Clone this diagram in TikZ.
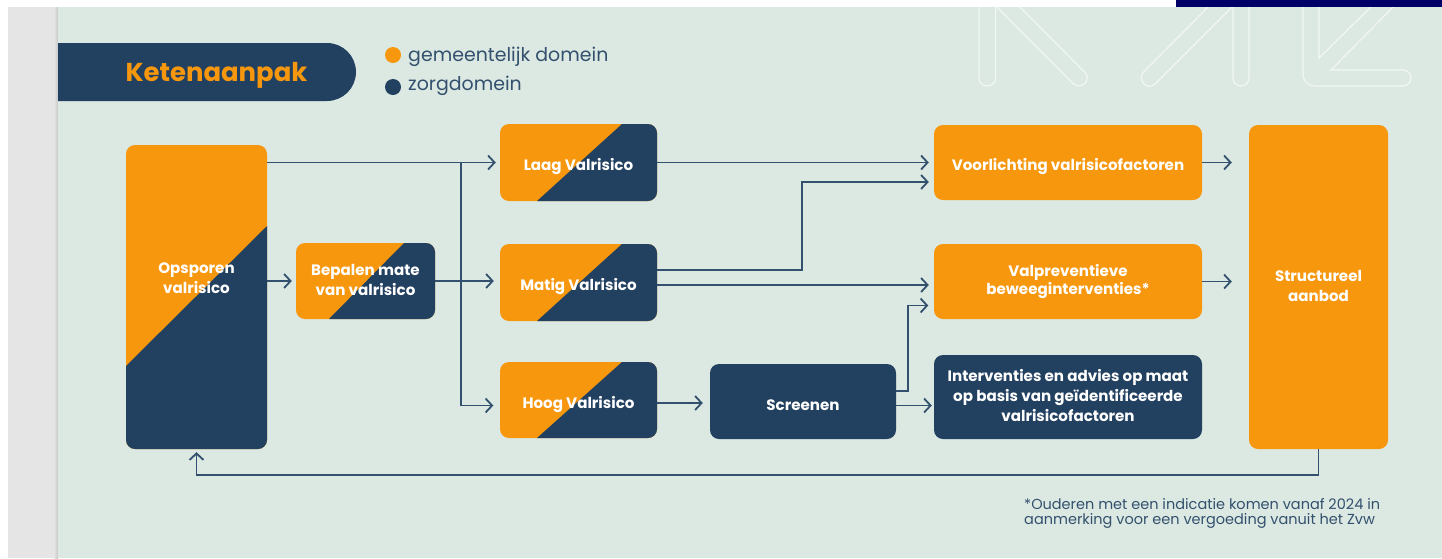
\documentclass[tikz,border=0pt]{standalone}
\usepackage{fontspec}
\setmainfont{Poppins}
\usetikzlibrary{arrows.meta,calc}
\definecolor{navy}{HTML}{224060}
\definecolor{oranje}{HTML}{F7970D}
\definecolor{mint}{HTML}{DCE9E2}
\definecolor{lijn}{HTML}{33506E}
\definecolor{ghost}{HTML}{F2F7F4}
\definecolor{strip}{HTML}{E5E5E5}
\definecolor{topbar}{HTML}{000066}
\tikzset{
  drop/.style={execute at begin node={\rule{0pt}{#1pt}}},
  boxbase/.style={rounded corners=9pt,inner sep=0pt,align=center,text=white,
    font=\fontsize{15.1}{20}\selectfont\bfseries,
    drop=20,
    execute at end node={\rule[-3pt]{0pt}{0pt}}},
  orangebox/.style={boxbase,fill=oranje},
  navybox/.style={boxbase,fill=navy},
  splitbox/.style 2 args={boxbase,fill=oranje,path picture={
    \fill[navy,sharp corners] ([xshift=#1pt]path picture bounding box.north west)
      -- (path picture bounding box.north east)
      -- (path picture bounding box.south east)
      -- ([xshift=#2pt]path picture bounding box.south west) -- cycle;}},
  conn/.style={draw=lijn,line width=1.8pt},
  arrowc/.style={conn,-{Straight Barb[length=6.5pt,width=14pt,line width=1.8pt]}},
  ghostline/.style={draw=ghost,line width=1.2pt},
  dot/.style={circle,inner sep=0pt,minimum size=16pt},
  legendtext/.style={anchor=west,inner sep=0pt,text=lijn,font=\fontsize{18.95}{22}\selectfont},
}
\begin{document}
\begin{tikzpicture}[x=1pt,y=-1pt]
\useasboundingbox (0,0) rectangle (1442,558);
\fill[white] (0,0) rectangle (1442,558);
\fill[strip] (8,7) rectangle (58,558);
\shade[left color=strip,right color=black!22] (54,7) rectangle (58,558);
\fill[mint] (58,7) rectangle (1442,558);
\fill[topbar] (1176,0) rectangle (1442,7);
% watermark
\begin{scope}
\clip (58,7) rectangle (1442,558);
\draw[ghostline] (979,0) -- (979,78) arc[start angle=180,end angle=360,x radius=8.3pt,y radius=8pt] -- (995.6,0);
\draw[ghostline] (990,0) -- (1073,83.5) .. controls (1078,88) and (1086,86) .. (1087,79) .. controls (1087.5,76) and (1087,74.5) .. (1085,72.5) -- (1013,0);
\draw[ghostline] (1215,0) -- (1143,72.5) .. controls (1140,76) and (1141,83) .. (1146,85.5) .. controls (1150,87) and (1153,86) .. (1155,84) -- (1239,0);
\draw[ghostline] (1233,0) -- (1233,78) arc[start angle=180,end angle=360,x radius=8pt,y radius=8pt] -- (1249,0);
\draw[ghostline] (1303,0) -- (1303,74) .. controls (1303,81) and (1308,86) .. (1315,86) -- (1403,86) arc[start angle=-90,end angle=90,x radius=8pt,y radius=8pt] -- (1331,70) -- (1400,0);
\draw[ghostline] (1319,0) -- (1319,58) -- (1378,0);
\end{scope}
% header
\fill[navy] (58,43) -- (327,43) arc[start angle=90,end angle=-90,x radius=29pt,y radius=29pt] -- (58,101) -- cycle;
\node[inner sep=0pt,text=oranje,font=\fontsize{25.9}{28}\selectfont\bfseries] (title) at (216.5,75.5) {Ketenaanpak};
\node[dot,fill=oranje] (dot1) at (393,55) {};
\node[dot,fill=navy] (dot2) at (393,87) {};
\node[legendtext] (leg1) at (408,56.5) {gemeentelijk domein};
\node[legendtext] (leg2) at (408,86) {zorgdomein};
% nodes
\node[boxbase,fill=oranje,minimum width=141pt,minimum height=304pt,path picture={
    \fill[navy,sharp corners] ([yshift=-81pt]path picture bounding box.north east)
      -- (path picture bounding box.south east)
      -- (path picture bounding box.south west)
      -- ([yshift=-221pt]path picture bounding box.north west) -- cycle;
  }] (ops) at (196.5,297) {Opsporen\\valrisico\rule[-37pt]{0pt}{0pt}};
\node[splitbox={108}{33},drop=18,minimum width=139pt,minimum height=76pt] (bep) at (365.5,281) {Bepalen mate\\van valrisico};
\node[splitbox={122}{37},drop=19,minimum width=157pt,minimum height=77pt] (laag) at (578.5,162.5) {Laag Valrisico};
\node[splitbox={122}{37},drop=20,minimum width=157pt,minimum height=77pt] (matig) at (578.5,282.5) {Matig Valrisico};
\node[splitbox={122}{37},drop=22,minimum width=157pt,minimum height=76pt] (hoog) at (578.5,400) {Hoog Valrisico};
\node[navybox,drop=18,minimum width=186pt,minimum height=75pt] (scr) at (803,401.5) {Screenen};
\node[orangebox,drop=20,minimum width=268pt,minimum height=75pt] (voor) at (1068,162.5) {Voorlichting valrisicofactoren};
\node[orangebox,drop=25,minimum width=268pt,minimum height=75pt,font=\fontsize{15.1}{16}\selectfont\bfseries] (val) at (1068,281.5) {Valpreventieve\\beweeginterventies*};
\node[navybox,drop=22,minimum width=268pt,minimum height=84pt] (int) at (1068,397) {Interventies en advies op maat\\op basis van geïdentificeerde\\valrisicofactoren};
\node[orangebox,drop=24,minimum width=139pt,minimum height=324pt] (str) at (1318.5,287) {Structureel\\aanbod};
\node[anchor=north west,inner sep=0pt,align=left,text=lijn,font=\fontsize{14.5}{15}\selectfont] (foot) at (1024,498) {*Ouderen met een indicatie komen vanaf 2024 in\\aanmerking voor een vergoeding vanuit het Zvw};
% connectors
\coordinate (branch) at (461,163);
\coordinate (m1) at (802,226);
\coordinate (m2) at (908,350);
\coordinate (fb) at (758,475);
\draw[arrowc,shorten >=4pt] (ops.east |- laag.west) -- (laag.west);
\draw[arrowc,shorten >=6.5pt] (branch) |- ([yshift=-5.5pt]hoog.west);
\draw[arrowc,shorten >=4pt] (ops.east |- bep.west) -- (bep.west);
\draw[arrowc,shorten >=6pt] (bep.east) -- (bep.east -| matig.west);
\draw[arrowc,shorten >=5pt] (laag.east) -- (laag.east -| voor.west);
\draw[arrowc,shorten >=5pt] ([yshift=12.5pt]matig.east) -| (m1) |- ([yshift=-19.5pt]voor.west);
\draw[arrowc,shorten >=5pt] ([yshift=-2.5pt]matig.east) -- ([yshift=-2.5pt]matig.east -| val.west);
\draw[arrowc,shorten >=7pt] ([yshift=-3pt]hoog.east) -- ([yshift=-3pt]hoog.east -| scr.west);
\draw[arrowc,shorten >=5.5pt] ([yshift=10.5pt]scr.east) -| (m2) |- ([yshift=-24pt]val.west);
\draw[arrowc,shorten >=2pt] ([yshift=-4pt]scr.east) -- ([yshift=-4pt]scr.east -| int.west);
\draw[arrowc,shorten >=17pt] (voor.east) -- (voor.east -| str.west);
\draw[arrowc,shorten >=17pt] (val.east) -- (val.east -| str.west);
\draw[arrowc,shorten >=3pt] (str.south) |- (fb) -| (ops.south);
\end{tikzpicture}
\end{document}
